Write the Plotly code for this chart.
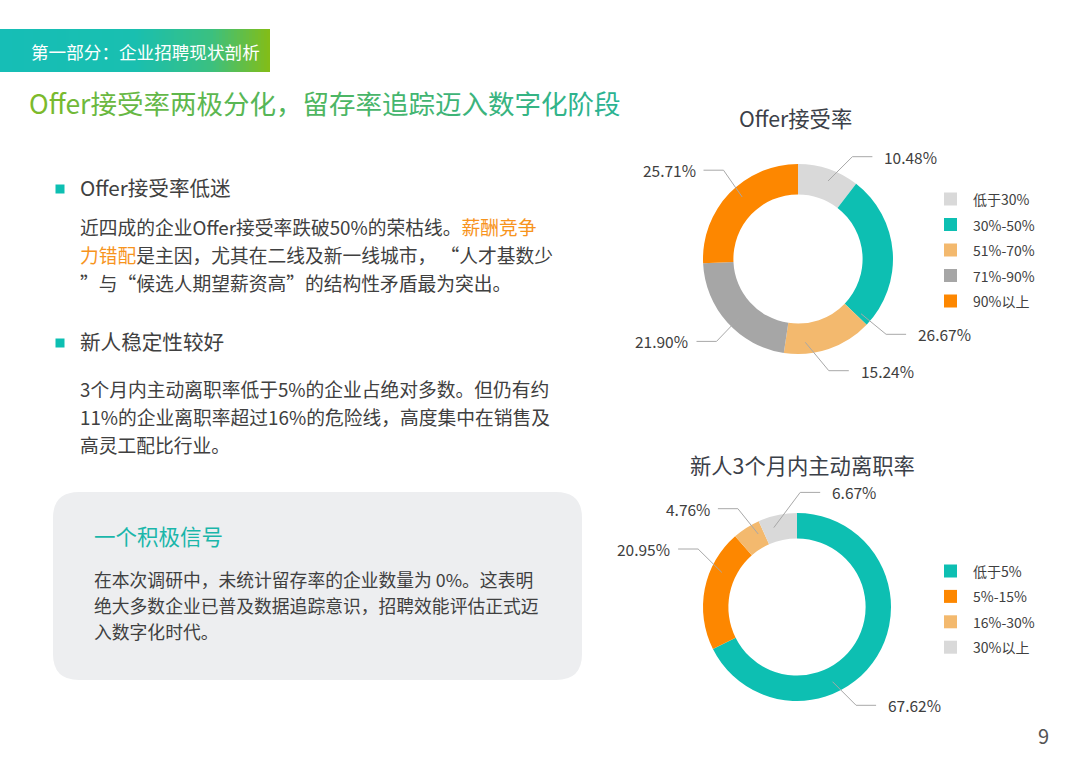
import math
import plotly.graph_objects as go

# ---------------- data ----------------
offer_labels = ["低于30%", "30%-50%", "51%-70%", "71%-90%", "90%以上"]
offer_values = [10.48, 26.67, 15.24, 21.90, 25.71]

quit_labels = ["低于5%", "5%-15%", "16%-30%", "30%以上"]
quit_values = [67.62, 20.95, 4.76, 6.67]

# ---------------- styles / layout config ----------------
W, H = 1080, 764
FONT = "Noto Sans CJK SC"
TEAL = "#0dbfb2"
ORANGE = "#fd8700"
LORANGE = "#f3b96e"
GRAY = "#a6a6a6"
LGRAY = "#d9d9d9"
TXT = "#404040"
LINE = "#a8a8a8"

offer_colors = [LGRAY, TEAL, LORANGE, GRAY, ORANGE]
quit_colors = [TEAL, ORANGE, LORANGE, LGRAY]

# donut geometry (pixels)
d1 = dict(cx=798, cy=259, R=95, hole=0.68)
d2 = dict(cx=797, cy=607, R=94, hole=0.73)

# leader line anchor angles (deg clockwise from 12 o'clock): start, elbow
offer_leader = [(21, 28), (131, 130.5), (175, 164.6), (225, 224.7), (318, 320)]
quit_leader = [(154.6, 149), (294.7, 300.4), (332, 329), (343.7, 1.6)]

fig = go.Figure()


def add_donut(labels, values, colors, g, name):
    x0 = (g["cx"] - g["R"]) / W
    x1 = (g["cx"] + g["R"]) / W
    y0 = 1 - (g["cy"] + g["R"]) / H
    y1 = 1 - (g["cy"] - g["R"]) / H
    fig.add_trace(go.Pie(
        labels=labels, values=values, sort=False, direction="clockwise",
        rotation=0, hole=g["hole"], textinfo="none", hoverinfo="label+percent",
        marker=dict(colors=colors, line=dict(width=0)),
        domain=dict(x=[x0, x1], y=[y0, y1]), showlegend=False, name=name,
    ))


add_donut(offer_labels, offer_values, offer_colors, d1, "offer")
add_donut(quit_labels, quit_values, quit_colors, d2, "quit")

shapes = []
annotations = []


def pt(g, ang, r):
    a = math.radians(ang)
    return g["cx"] + r * math.sin(a), g["cy"] - r * math.cos(a)


def add_leaders(values, g, leaders):
    for v, (a_s, a_e) in zip(values, leaders):
        sx, sy = pt(g, a_s, 0.88 * g["R"])
        ex, ey = pt(g, a_e, 1.22 * g["R"])
        right = ex >= g["cx"]
        hx = ex + (20 if right else -20)
        shapes.append(dict(type="path", xref="x", yref="y", layer="above",
                           path=f"M {sx:.1f} {sy:.1f} L {ex:.1f} {ey:.1f} L {hx:.1f} {ey:.1f}",
                           line=dict(color=LINE, width=1)))
        annotations.append(dict(x=hx + (10 if right else -6), y=ey, xref="x", yref="y",
                                text=f"{v:.2f}%", showarrow=False,
                                xanchor="left" if right else "right", yanchor="middle",
                                font=dict(family=FONT, size=15.5, color=TXT)))


add_leaders(offer_values, d1, offer_leader)
add_leaders(quit_values, d2, quit_leader)


def add_legend(labels, colors, x, y0, step):
    ys = [y0 + i * step for i in range(len(labels))]
    fig.add_trace(go.Scatter(x=[x] * len(labels), y=ys, mode="markers",
                             marker=dict(symbol="square", size=13, color=colors),
                             hoverinfo="skip", showlegend=False))
    for lab, yy in zip(labels, ys):
        annotations.append(dict(x=x + 20, y=yy, xref="x", yref="y", text=lab, showarrow=False,
                                xanchor="left", yanchor="middle",
                                font=dict(family=FONT, size=14, color=TXT)))


add_legend(offer_labels, offer_colors, 950.5, 199, 25.5)
add_legend(quit_labels, quit_colors, 950.5, 571, 25.4)

# chart titles
annotations.append(dict(x=795, y=117, xref="x", yref="y", text="Offer接受率", showarrow=False,
                        xanchor="center", yanchor="middle", font=dict(family=FONT, size=21.3, color="#3b4048")))
annotations.append(dict(x=802, y=464, xref="x", yref="y", text="新人3个月内主动离职率", showarrow=False,
                        xanchor="center", yanchor="middle", font=dict(family=FONT, size=21.3, color="#3b4048")))

# ---------------- header bar with gradient ----------------
def lerp_color(stops, t):
    for (t0, c0), (t1, c1) in zip(stops[:-1], stops[1:]):
        if t0 <= t <= t1:
            f = (t - t0) / (t1 - t0) if t1 > t0 else 0
            a = [int(c0[i:i + 2], 16) for i in (1, 3, 5)]
            b = [int(c1[i:i + 2], 16) for i in (1, 3, 5)]
            return "#" + "".join(f"{round(a[k] + (b[k] - a[k]) * f):02x}" for k in range(3))
    return stops[-1][1]


bar_stops = [(0, "#16beb6"), (0.5, "#19bfb0"), (0.78, "#3ac081"), (1.0, "#84bd16")]
n = 90
bx0, bx1, by0, by1 = 0, 270, 29, 72
for i in range(n):
    xa = bx0 + (bx1 - bx0) * i / n
    xb = bx0 + (bx1 - bx0) * (i + 1) / n + 0.6
    shapes.append(dict(type="rect", xref="x", yref="y", layer="below", x0=xa, x1=min(xb, bx1),
                       y0=by0, y1=by1, line=dict(width=0),
                       fillcolor=lerp_color(bar_stops, (i + 0.5) / n)))
annotations.append(dict(x=29, y=51, xref="x", yref="y", text="第一部分：企业招聘现状剖析", showarrow=False,
                        xanchor="left", yanchor="middle", font=dict(family=FONT, size=17.6, color="white")))

# main title with gradient text
title = "Offer接受率两极分化，留存率追踪迈入数字化阶段"
title_stops = [(0, "#7cba2c"), (0.5, "#52b65c"), (1.0, "#2bb392")]
parts = []
for i, ch in enumerate(title):
    c = lerp_color(title_stops, i / (len(title) - 1))
    parts.append(f"<span style='color:{c}'>{ch}</span>")
annotations.append(dict(x=27, y=102, xref="x", yref="y", text="".join(parts), showarrow=False,
                        xanchor="left", yanchor="middle", font=dict(family=FONT, size=26.5, color="#52b65c")))

# ---------------- left text ----------------
OR = "#f7941d"
for by, head in [(189, "Offer接受率低迷"), (343, "新人稳定性较好")]:
    shapes.append(dict(type="rect", xref="x", yref="y", x0=55.5, x1=64.5, y0=by - 4.5, y1=by + 4.5,
                       fillcolor=TEAL, line=dict(width=0)))
    annotations.append(dict(x=78, y=by - 2, xref="x", yref="y", text=head, showarrow=False,
                            xanchor="left", yanchor="middle", font=dict(family=FONT, size=20.6, color=TXT)))

para1 = [
    f"近四成的企业Offer接受率跌破50%的荣枯线。<span style='color:{OR}'>薪酬竞争</span>",
    f"<span style='color:{OR}'>力错配</span>是主因，尤其在二线及新一线城市， “人才基数少",
    "”与“候选人期望薪资高”的结构性矛盾最为突出。",
]
para2 = [
    "3个月内主动离职率低于5%的企业占绝对多数。但仍有约",
    "11%的企业离职率超过16%的危险线，高度集中在销售及",
    "高灵工配比行业。",
]
for i, t in enumerate(para1):
    annotations.append(dict(x=78, y=226 + 28 * i, xref="x", yref="y", text=t, showarrow=False,
                            xanchor="left", yanchor="middle", font=dict(family=FONT, size=18.75, color=TXT)))
for i, t in enumerate(para2):
    annotations.append(dict(x=78, y=388 + 28 * i, xref="x", yref="y", text=t, showarrow=False,
                            xanchor="left", yanchor="middle", font=dict(family=FONT, size=18.75, color=TXT)))

# rounded box
x0, x1, y0, y1, r = 53, 582, 492, 680, 26
box = (f"M {x0 + r} {y0} L {x1 - r} {y0} Q {x1} {y0} {x1} {y0 + r} L {x1} {y1 - r} "
       f"Q {x1} {y1} {x1 - r} {y1} L {x0 + r} {y1} Q {x0} {y1} {x0} {y1 - r} "
       f"L {x0} {y0 + r} Q {x0} {y0} {x0 + r} {y0} Z")
shapes.append(dict(type="path", xref="x", yref="y", layer="below", path=box,
                   fillcolor="#edeef0", line=dict(width=0)))
annotations.append(dict(x=92, y=535, xref="x", yref="y", text="一个积极信号", showarrow=False,
                        xanchor="left", yanchor="middle", font=dict(family=FONT, size=21.5, color="#1ab6aa")))
box_lines = [
    "在本次调研中，未统计留存率的企业数量为 0%。这表明",
    "绝大多数企业已普及数据追踪意识，招聘效能评估正式迈",
    "入数字化时代。",
]
for i, t in enumerate(box_lines):
    annotations.append(dict(x=92, y=579 + 26 * i, xref="x", yref="y", text=t, showarrow=False,
                            xanchor="left", yanchor="middle", font=dict(family=FONT, size=17.8, color=TXT)))

# page number
annotations.append(dict(x=1043, y=735, xref="x", yref="y", text="9", showarrow=False,
                        xanchor="center", yanchor="middle", font=dict(family=FONT, size=20, color="#555555")))

fig.update_layout(
    width=W, height=H, margin=dict(l=0, r=0, t=0, b=0),
    paper_bgcolor="white", plot_bgcolor="rgba(0,0,0,0)",
    xaxis=dict(range=[0, W], domain=[0, 1], visible=False, fixedrange=True),
    yaxis=dict(range=[H, 0], domain=[0, 1], visible=False, fixedrange=True),
    shapes=shapes, annotations=annotations, showlegend=False,
)

fig.write_html("out.html", config={"displayModeBar": False},
               post_script="document.body.style.margin='0';")
